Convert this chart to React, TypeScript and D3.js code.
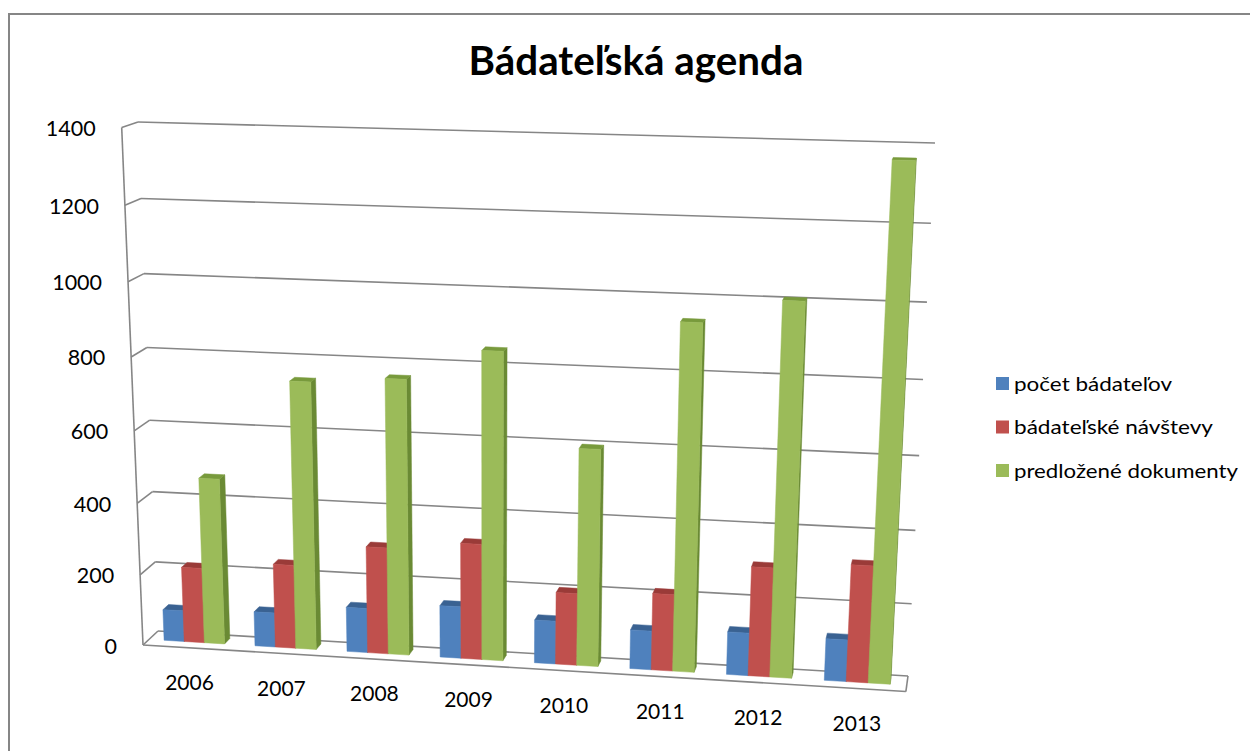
import React from "react";
import * as d3 from "d3";

const categories = ["2006", "2007", "2008", "2009", "2010", "2011", "2012", "2013"];
const seriesNames = ["počet bádateľov", "bádateľské návštevy", "predložené dokumenty"];
const pocetBadatelov = [88, 97, 125, 145, 120, 108, 118, 115];
const badatelskeNavstevy = [212, 235, 298, 322, 200, 212, 300, 320];
const predlozeneDokumenty = [465, 742, 760, 845, 596, 940, 1005, 1365];
const yTicks = [0, 200, 400, 600, 800, 1000, 1200, 1400];
const title = "Bádateľská agenda";

const seriesValues = [pocetBadatelov, badatelskeNavstevy, predlozeneDokumenty];
const frontColors = ["#4F81BD", "#C0504D", "#9BBB59"];
const topColors = ["#3A6292", "#9A3B38", "#789A3C"];
const sideColors = ["#34577F", "#86332F", "#6A8A34"];
const legendWidths = [158, 199, 224];

// camera: back-wall corners (u,v) -> screen, plus front-left references
const BL0: [number, number] = [158, 631];
const BR0: [number, number] = [908, 676];
const BR1: [number, number] = [935, 143];
const BL1: [number, number] = [138, 122];
const FL0: [number, number] = [143, 645];
const FL1: [number, number] = [117, 130];
const FR0: [number, number] = [907, 696];

function homography() {
  const [x0, y0] = BL0, [x1, y1] = BR0, [x2, y2] = BR1, [x3, y3] = BL1;
  const dx1 = x1 - x2, dx2 = x3 - x2, dx3 = x0 - x1 + x2 - x3;
  const dy1 = y1 - y2, dy2 = y3 - y2, dy3 = y0 - y1 + y2 - y3;
  const den = dx1 * dy2 - dx2 * dy1;
  const g = (dx3 * dy2 - dx2 * dy3) / den;
  const h = (dx1 * dy3 - dx3 * dy1) / den;
  const a = x1 - x0 + g * x1, b = x3 - x0 + h * x3, c = x0;
  const d = y1 - y0 + g * y1, e = y3 - y0 + h * y3, f = y0;
  return { a, b, c, d, e, f, g, h };
}

const H = homography();
function makeProj(lam: number) {
  const p3x = lam * FL0[0] - H.c, p3y = lam * FL0[1] - H.f, p3w = lam - 1;
  return (u: number, v: number, w: number): [number, number] => {
    const W = H.g * u + H.h * v + 1 + w * p3w;
    return [(H.a * u + H.b * v + H.c + w * p3x) / W, (H.d * u + H.e * v + H.f + w * p3y) / W];
  };
}
let bestLam = 1, bestErr = Infinity;
for (let l = 0.6; l <= 1.4; l += 0.0005) {
  const p = makeProj(l);
  const a = p(0, 1, 1), b = p(1, 0, 1);
  const err = (a[0] - FL1[0]) ** 2 + (a[1] - FL1[1]) ** 2 + (b[0] - FR0[0]) ** 2 + (b[1] - FR0[1]) ** 2;
  if (err < bestErr) { bestErr = err; bestLam = l; }
}
const proj = makeProj(bestLam);

const xBand = d3.scaleBand<string>().domain(categories).range([0, 1]).paddingInner(0).paddingOuter(0);
const sBand = d3.scaleBand<number>().domain([0, 1, 2]).range([0, xBand.bandwidth()]).paddingInner(0).paddingOuter(0.75);
const vScale = d3.scaleLinear().domain([0, 1400]).range([0, 1]);
const W_BACK = 0.22, W_FRONT = 0.6;

const pts = (arr: [number, number][]) => arr.map((p) => `${p[0].toFixed(2)},${p[1].toFixed(2)}`).join(" ");
const area = (arr: [number, number][]) => {
  let s = 0;
  for (let i = 0; i < arr.length; i++) {
    const p = arr[i], q = arr[(i + 1) % arr.length];
    s += p[0] * q[1] - q[0] * p[1];
  }
  return s;
};
const line = (a: [number, number], b: [number, number], key: string) => (
  <line key={key} x1={a[0]} y1={a[1]} x2={b[0]} y2={b[1]} stroke="#868686" strokeWidth={1.6} />
);

export default function App() {
  const font = "Lato, 'Open Sans', sans-serif";
  const grid: any[] = [];
  yTicks.forEach((t) => {
    const v = vScale(t);
    grid.push(line(proj(0, v, 1), proj(0, v, 0), `s${t}`));
    grid.push(line(proj(0, v, 0), proj(1, v, 0), `b${t}`));
  });
  grid.push(line(proj(0, 0, 1), proj(0, 1, 1), "axis"));
  grid.push(line(proj(0, 0, 1), proj(1, 0, 1), "front"));
  grid.push(line(proj(1, 0, 0), proj(1, 0, 1), "right"));

  const bars: any[] = [];
  categories.forEach((cat, i) => {
    seriesValues.forEach((vals, s) => {
      const u0 = (xBand(cat) as number) + (sBand(s) as number);
      const u1 = u0 + sBand.bandwidth();
      const v = vScale(vals[i]);
      const faces: { p: [number, number][]; c: string }[] = [
        { p: [proj(u0, 0, W_BACK), proj(u0, 0, W_FRONT), proj(u0, v, W_FRONT), proj(u0, v, W_BACK)], c: sideColors[s] },
        { p: [proj(u1, 0, W_FRONT), proj(u1, 0, W_BACK), proj(u1, v, W_BACK), proj(u1, v, W_FRONT)], c: sideColors[s] },
        { p: [proj(u0, v, W_FRONT), proj(u1, v, W_FRONT), proj(u1, v, W_BACK), proj(u0, v, W_BACK)], c: topColors[s] },
        { p: [proj(u0, 0, W_FRONT), proj(u1, 0, W_FRONT), proj(u1, v, W_FRONT), proj(u0, v, W_FRONT)], c: frontColors[s] },
      ];
      faces.forEach((f, k) => {
        if (area(f.p) < 0) {
          bars.push(<polygon key={`${i}-${s}-${k}`} points={pts(f.p)} fill={f.c} stroke={f.c} strokeWidth={0.5} strokeLinejoin="round" />);
        }
      });
    });
  });

  const yLabels = yTicks.map((t) => {
    const p = proj(0, vScale(t), 1);
    return (
      <text key={`yl${t}`} x={p[0] - 26} y={p[1] + 1} dy="0.35em" textAnchor="end" fontSize={21.5} fontFamily={font} fill="#000">
        {t}
      </text>
    );
  });
  const xLabels = categories.map((cat) => {
    const p = proj((xBand(cat) as number) + xBand.bandwidth() / 2, 0, 1);
    return (
      <text key={`xl${cat}`} x={p[0] + 1} y={p[1] + 35} dy="0.35em" textAnchor="middle" fontSize={21} fontFamily={font} fill="#000">
        {cat}
      </text>
    );
  });

  return (
    <svg width={1250} height={751} style={{ position: "absolute", left: 0, top: 0, background: "#fff" }}>
      <rect x={9} y={14} width={1260} height={760} fill="#fff" stroke="#868686" strokeWidth={2} />
      <text x={636} y={75} textAnchor="middle" fontSize={40} fontWeight="bold" fontFamily={font} textLength={335} lengthAdjust="spacingAndGlyphs" fill="#000">
        {title}
      </text>
      <g>{grid}</g>
      <g>{bars}</g>
      <g>{yLabels}</g>
      <g>{xLabels}</g>
      <g>
        {seriesNames.map((n, s) => (
          <g key={n}>
            <rect x={996} y={377 + s * 43.5} width={13} height={13} fill={frontColors[s]} />
            <text x={1014} y={383.5 + s * 43.5} dy="0.35em" fontSize={20} fontFamily={font} textLength={legendWidths[s]} lengthAdjust="spacingAndGlyphs" fill="#000">
              {n}
            </text>
          </g>
        ))}
      </g>
    </svg>
  );
}
